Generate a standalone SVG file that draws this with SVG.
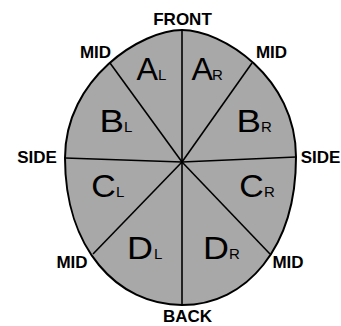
<svg xmlns="http://www.w3.org/2000/svg" width="341" height="326" viewBox="0 0 341 326">
<style>
.lbl{font-family:"Liberation Sans",Arial,sans-serif;font-weight:bold;font-size:17px;fill:#000;text-anchor:middle}
.big{font-family:"Liberation Sans",Arial,sans-serif;font-size:30.5px;fill:#000}
.sub{font-family:"Liberation Sans",Arial,sans-serif;font-size:15px;fill:#000}
.ln{stroke:#000;stroke-width:1.6;fill:none}
</style>
<rect width="341" height="326" fill="#fff"/>
<g id="outline">
<path d="M182,30 C222,30 296,77 296,157 C296,247 247,305 182,305 C117,305 65,248 65,158 C65,78 142,30 182,30 Z" fill="#a8a8a8" stroke="#000" stroke-width="2"/>
</g>
<g id="connectors">
<line class="ln" x1="182" y1="30" x2="182" y2="305"/>
<polyline class="ln" points="65,158 182,162 296,157"/>
<line class="ln" x1="182" y1="162" x2="110" y2="63"/>
<line class="ln" x1="182" y1="162" x2="252" y2="63"/>
<line class="ln" x1="182" y1="162" x2="93" y2="254"/>
<line class="ln" x1="182" y1="162" x2="270" y2="254"/>
</g>
<g id="labels">
<text class="lbl" x="182.5" y="25">FRONT</text>
<text class="lbl" x="95.5" y="58">MID</text>
<text class="lbl" x="271.5" y="58">MID</text>
<text class="lbl" x="37" y="163">SIDE</text>
<text class="lbl" x="320.5" y="163">SIDE</text>
<text class="lbl" x="72" y="267.5">MID</text>
<text class="lbl" x="288" y="267.5">MID</text>
<text class="lbl" x="187.5" y="322">BACK</text>
</g>
<g id="AL"><text class="big" x="136.5" y="80" textLength="21.5" lengthAdjust="spacingAndGlyphs">A</text><text class="sub" x="158" y="80">L</text></g>
<g id="AR"><text class="big" x="191.5" y="80" textLength="21.5" lengthAdjust="spacingAndGlyphs">A</text><text class="sub" x="212" y="80">R</text></g>
<g id="BL"><text class="big" x="99.5" y="131.5" textLength="24.5" lengthAdjust="spacingAndGlyphs">B</text><text class="sub" x="124" y="131.5">L</text></g>
<g id="BR"><text class="big" x="236.5" y="132" textLength="24.5" lengthAdjust="spacingAndGlyphs">B</text><text class="sub" x="261" y="132">R</text></g>
<g id="CL"><text class="big" x="91.3" y="197" textLength="24.5" lengthAdjust="spacingAndGlyphs">C</text><text class="sub" x="116" y="197">L</text></g>
<g id="CR"><text class="big" x="239.3" y="197" textLength="24.5" lengthAdjust="spacingAndGlyphs">C</text><text class="sub" x="264" y="197">R</text></g>
<g id="DL"><text class="big" x="127" y="259" textLength="26" lengthAdjust="spacingAndGlyphs">D</text><text class="sub" x="154" y="259">L</text></g>
<g id="DR"><text class="big" x="203" y="259" textLength="26" lengthAdjust="spacingAndGlyphs">D</text><text class="sub" x="229" y="259">R</text></g>
</svg>
